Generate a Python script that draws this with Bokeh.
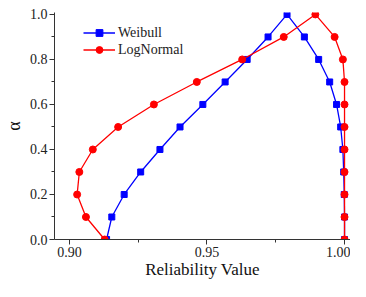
from bokeh.plotting import figure
from bokeh.models import Range1d, FixedTicker, PrintfTickFormatter, Legend, LegendItem
from bokeh.embed import file_html
from bokeh.resources import INLINE

# ---- data ----
alpha = [0.0, 0.1, 0.2, 0.3, 0.4, 0.5, 0.6, 0.7, 0.8, 0.9, 1.0,
         0.9, 0.8, 0.7, 0.6, 0.5, 0.4, 0.3, 0.2, 0.1, 0.0]
weibull = [0.9135, 0.9154, 0.9199, 0.9259, 0.9329, 0.9402, 0.9485, 0.9566, 0.9646, 0.9722, 0.9791,
           0.9854, 0.9906, 0.9946, 0.9971, 0.9986, 0.9994, 0.9997, 0.9999, 1.0000, 1.0000]
lognormal = [0.9128, 0.9060, 0.9028, 0.9036, 0.9085, 0.9177, 0.9307, 0.9463, 0.9628, 0.9779, 0.9894,
             0.9964, 0.9994, 1.0000, 1.0000, 1.0000, 1.0000, 1.0000, 1.0000, 1.0000, 1.0000]
x_ticks = [0.90, 0.95, 1.00]
x_minor = [0.925, 0.975]
y_ticks = [0.0, 0.2, 0.4, 0.6, 0.8, 1.0]
y_minor = [0.1, 0.3, 0.5, 0.7, 0.9]
x_title = "Reliability Value"
y_title = "\u03b1"

FONT = "serif"

p = figure(width=350, height=281, output_backend="svg", toolbar_location=None,
           x_range=Range1d(0.89457, 1.00217), y_range=Range1d(0.0, 1.0086),
           min_border_left=52, min_border_right=0, min_border_top=12, min_border_bottom=0)
p.outline_line_color = None
p.grid.grid_line_color = None
p.background_fill_color = "white"
p.border_fill_color = "white"

for ax in (p.xaxis[0], p.yaxis[0]):
    ax.axis_line_color = "#333333"
    ax.axis_line_width = 1
    ax.major_tick_line_color = "#333333"
    ax.minor_tick_line_color = "#333333"
    ax.major_tick_in = 0
    ax.major_tick_out = 5
    ax.minor_tick_in = 0
    ax.minor_tick_out = 3
    ax.major_label_text_font = FONT
    ax.major_label_text_font_size = "14px"
    ax.major_label_text_color = "#222222"
    ax.axis_label_text_font = FONT
    ax.axis_label_text_font_style = "normal"
    ax.axis_label_text_color = "#111111"

p.xaxis.ticker = FixedTicker(ticks=x_ticks, minor_ticks=x_minor)
p.yaxis.ticker = FixedTicker(ticks=y_ticks, minor_ticks=y_minor)
p.xaxis.formatter = PrintfTickFormatter(format="%.2f")
p.yaxis.formatter = PrintfTickFormatter(format="%.1f")
p.xaxis.major_label_standoff = 2
p.yaxis.major_label_standoff = 2
p.xaxis.axis_label = x_title
p.yaxis.axis_label = y_title
p.xaxis.axis_label_text_font_size = "17px"
p.yaxis.axis_label_text_font_size = "18px"
p.xaxis.axis_label_standoff = 0
p.yaxis.axis_label_standoff = 3

wl = p.line(weibull, alpha, line_color="#0000FF", line_width=1.3)
ws = p.scatter(weibull, alpha, marker="square", size=6, fill_color="#0000FF", line_color="#0000FF")
ll = p.line(lognormal, alpha, line_color="#FF0000", line_width=1.3)
ls = p.scatter(lognormal, alpha, marker="circle", size=7, fill_color="#FF0000", line_color="#FF0000")

legend = Legend(items=[LegendItem(label="Weibull", renderers=[wl, ws]),
                       LegendItem(label="LogNormal", renderers=[ll, ls])],
                location=(29, 181))
legend.padding = 0
legend.margin = 0
legend.spacing = -6
legend.glyph_width = 32
legend.glyph_height = 17
legend.label_height = 17
legend.label_standoff = 3
legend.label_text_font = FONT
legend.label_text_font_size = "14px"
legend.label_text_color = "#222222"
legend.border_line_alpha = 0
legend.background_fill_alpha = 0
p.add_layout(legend)

open("out.html", "w").write(file_html(p, INLINE))
